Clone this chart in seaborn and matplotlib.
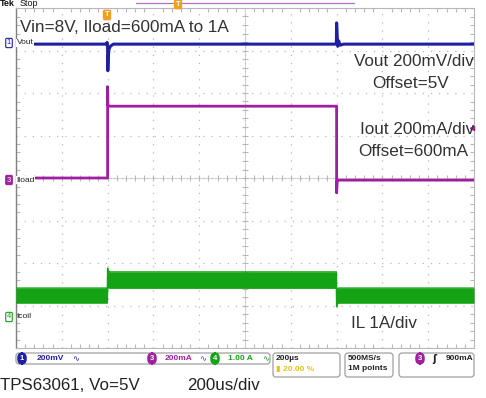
import numpy as np
import pandas as pd
import matplotlib
matplotlib.use('Agg')
import matplotlib.pyplot as plt
import seaborn as sns
from matplotlib.patches import FancyBboxPatch
from matplotlib.ticker import MultipleLocator

# ---------------- data ----------------
vout_t_us = [0, 396, 398, 400, 401, 403, 406, 412, 425, 1397, 1399, 1400, 1402, 1405, 1409, 1416, 1430, 2000]
vout_dev_mV = [0, 0, 8, -20, -125, -60, -25, -10, 0, 0, 0, 100, 55, -10, 15, -5, 0, 0]

iload_t_us = [0, 400, 400, 401, 404, 1400, 1400, 1403, 1410, 2000]
iload_mA = [600, 600, 1030, 945, 938, 938, 530, 590, 590, 590]

il_t_us = [0, 399, 400, 402, 408, 1399, 1400, 1402, 1408, 2000]
il_upper_A = [0.68, 0.68, 1.15, 1.10, 1.06, 1.06, 0.68, 0.66, 0.68, 0.68]
il_lower_A = [0.33, 0.33, 0.68, 0.70, 0.68, 0.68, 0.24, 0.30, 0.33, 0.33]

# scope settings
time_div_us = 200
vout_scale_mV, vout_ref_div = 200, 7.15
iload_scale_mA, iload_ref_mA, iload_ref_div = 200, 600, 4.0
il_scale_A, il_ref_div = 1.0, 0.73

title_txt = "Vin=8V, Iload=600mA to 1A"
caption_left = "TPS63061, Vo=5V"
caption_right = "200us/div"

C_V = '#1f1fa6'
C_I = '#a01fa0'
C_L = '#14a314'
GRID = '#b8b8b8'
TXT = '#333333'

W, H = 486, 398
sns.set_style('white')
plt.rcParams['font.family'] = ['Liberation Sans', 'DejaVu Sans']

fig = plt.figure(figsize=(W / 100, H / 100), dpi=100)
ax = fig.add_axes([16 / W, (H - 348) / H, 458 / W, 340 / H])
ax.set_xlim(0, 10 * time_div_us)
ax.set_ylim(0, 8)
ax.set_xticks(np.arange(0, 10 * time_div_us + 1, time_div_us))
ax.set_yticks(np.arange(0, 9, 1))
ax.xaxis.set_minor_locator(MultipleLocator(time_div_us / 5))
ax.yaxis.set_minor_locator(MultipleLocator(0.2))
ax.tick_params(which='both', labelbottom=False, labelleft=False, direction='in',
               top=True, right=True, bottom=True, left=True, color=GRID)
ax.tick_params(which='major', length=0)
ax.tick_params(which='minor', length=3, width=0.8)
ax.grid(True, which='major', color=GRID, linestyle=(0, (1, 5.5)), linewidth=0.9)
for s in ['top', 'right', 'bottom']:
    ax.spines[s].set_color(GRID)
    ax.spines[s].set_linewidth(0.8)
ax.spines['left'].set_color('#808080')
ax.spines['left'].set_linewidth(1.0)

# centre lines with minor ticks
ax.axhline(4, color='#c8c8c8', lw=0.6, zorder=1)
ax.axvline(1000, color='#c8c8c8', lw=0.6, zorder=1)
mx = np.arange(0, 2001, time_div_us / 5)
ax.plot(mx, np.full_like(mx, 4.0), ls='none', marker='|', ms=5, mew=0.8, color=GRID, zorder=1)
my = np.arange(0, 8.01, 0.2)
ax.plot(np.full_like(my, 1000.0), my, ls='none', marker='_', ms=5, mew=0.8, color=GRID, zorder=1)

# traces
vdf = pd.DataFrame({'t': vout_t_us,
                    'y': vout_ref_div + np.array(vout_dev_mV) / vout_scale_mV})
idf = pd.DataFrame({'t': iload_t_us,
                    'y': iload_ref_div + (np.array(iload_mA) - iload_ref_mA) / iload_scale_mA})
ldf = pd.DataFrame({'t': il_t_us,
                    'up': il_ref_div + np.array(il_upper_A) / il_scale_A,
                    'lo': il_ref_div + np.array(il_lower_A) / il_scale_A})

ax.fill_between(ldf['t'], ldf['lo'], ldf['up'], color=C_L, lw=0, zorder=3)
sns.lineplot(data=ldf, x='t', y='up', sort=False, estimator=None, ax=ax, color=C_L, lw=1, zorder=3)
sns.lineplot(data=ldf, x='t', y='lo', sort=False, estimator=None, ax=ax, color=C_L, lw=1, zorder=3)
sns.lineplot(data=idf, x='t', y='y', sort=False, estimator=None, ax=ax, color=C_I, lw=2.0, zorder=4)
sns.lineplot(data=vdf, x='t', y='y', sort=False, estimator=None, ax=ax, color=C_V, lw=2.2, zorder=5)
ax.set_xlabel('')
ax.set_ylabel('')

# ---------------- overlay in pixel coordinates ----------------
ov = fig.add_axes([0, 0, 1, 1], zorder=10)
ov.set_xlim(0, W)
ov.set_ylim(H, 0)
ov.axis('off')

# header
ov.text(0, 4, 'Tek', fontsize=6.5, fontweight='bold', va='center', ha='left', color='#111111')
ov.text(20, 4, 'Stop', fontsize=6.5, va='center', ha='left', color='#111111')
ov.plot([136, 354], [3, 3], color='#b070c0', lw=0.9)
ov.text(178, 4, 'T', fontsize=5.5, fontweight='bold', color='white', ha='center', va='center',
        bbox=dict(boxstyle='round,pad=0.15', fc='#f0a020', ec='#f0a020'))
ov.text(107, 15, 'T', fontsize=5.5, fontweight='bold', color='white', ha='center', va='center',
        bbox=dict(boxstyle='round,pad=0.15', fc='#f0a020', ec='#f0a020'))

# channel markers
ov.text(9, 43, '1', fontsize=5.5, color=C_V, ha='center', va='center',
        bbox=dict(boxstyle='round,pad=0.15', fc='white', ec=C_V, lw=0.8))
ov.text(16.5, 43, 'Vout', fontsize=6, color='#222222', ha='left', va='center',
        bbox=dict(boxstyle='square,pad=0.05', fc='white', ec='none'))
ov.text(9, 180, '3', fontsize=5.5, color='white', ha='center', va='center',
        bbox=dict(boxstyle='round,pad=0.15', fc=C_I, ec=C_I, lw=0.8))
ov.text(16.5, 180, 'Iload', fontsize=6, color='#222222', ha='left', va='center',
        bbox=dict(boxstyle='square,pad=0.05', fc='white', ec='none'))
ov.text(9, 317, '4', fontsize=5.5, color=C_L, ha='center', va='center',
        bbox=dict(boxstyle='round,pad=0.15', fc='white', ec=C_L, lw=0.8))
ov.text(16.5, 317, 'Icoil', fontsize=6, color='#222222', ha='left', va='center')

# annotations
ov.text(20, 27, title_txt, fontsize=12.3, color=TXT, ha='left', va='center')
ov.text(474, 62, 'Vout 200mV/div', fontsize=12.3, color=TXT, ha='right', va='center')
ov.text(411, 83, 'Offset=5V', fontsize=12.3, color=TXT, ha='center', va='center')
ov.text(474, 129, 'Iout 200mA/div', fontsize=12.3, color=TXT, ha='right', va='center')
ov.text(413, 152, 'Offset=600mA', fontsize=12.3, color=TXT, ha='center', va='center')
ov.text(351, 324, 'IL 1A/div', fontsize=12.3, color=TXT, ha='left', va='center')
ov.plot([472], [128], marker='<', ms=3, color=C_I)

# status bar boxes
def rbox(x0, y0, x1, y1):
    ov.add_patch(FancyBboxPatch((x0, y0), x1 - x0, y1 - y0,
                                boxstyle='round,pad=0,rounding_size=3',
                                fc='white', ec='#a0a0a0', lw=0.9))

rbox(16, 353, 270, 364)
rbox(273, 353, 340, 377)
rbox(345, 353, 393, 377)
rbox(399, 353, 474, 377)

SB = dict(fontsize=6, fontweight='bold', va='center', ha='left')

def badge(x, y, s, c):
    ov.text(x, y, s, fontsize=5.5, fontweight='bold', color='white', ha='center', va='center',
            bbox=dict(boxstyle='round,pad=0.25,rounding_size=0.6', fc=c, ec=c))

badge(22, 358.5, '1', C_V)
ov.text(37, 358.5, '200mV', color=C_V, **SB)
ov.text(72, 358.5, '∿', color=C_V, fontsize=6, va='center', ha='left', family='DejaVu Sans')
badge(152, 358.5, '3', C_I)
ov.text(165, 358.5, '200mA', color=C_I, **SB)
ov.text(199, 358.5, '∿', color=C_I, fontsize=6, va='center', ha='left', family='DejaVu Sans')
badge(215, 358.5, '4', C_L)
ov.text(228, 358.5, '1.00 A', color=C_L, **SB)
ov.text(262, 358.5, '∿', color=C_L, fontsize=6, va='center', ha='left', family='DejaVu Sans')

ov.text(276, 358.5, '200µs', color='#222222', **SB)
ov.text(276, 369, '▮ 20.00 %', color='#e8c020', **SB)
ov.text(348, 358.5, '500MS/s', color='#222222', **SB)
ov.text(348, 369, '1M points', color='#222222', **SB)
badge(420, 358.5, '3', C_I)
ov.text(432, 358.5, 'ʃ', color='#222222', fontsize=7, fontweight='bold', va='center', ha='left',
        family='DejaVu Sans')
ov.text(446, 358.5, '900mA', color='#222222', **SB)

# caption
ov.text(0, 386, caption_left, fontsize=12.2, color='#222222', ha='left', va='center')
ov.text(187, 386, caption_right, fontsize=12.2, color='#222222', ha='left', va='center')

fig.savefig('out.png', dpi=100, facecolor='white')
